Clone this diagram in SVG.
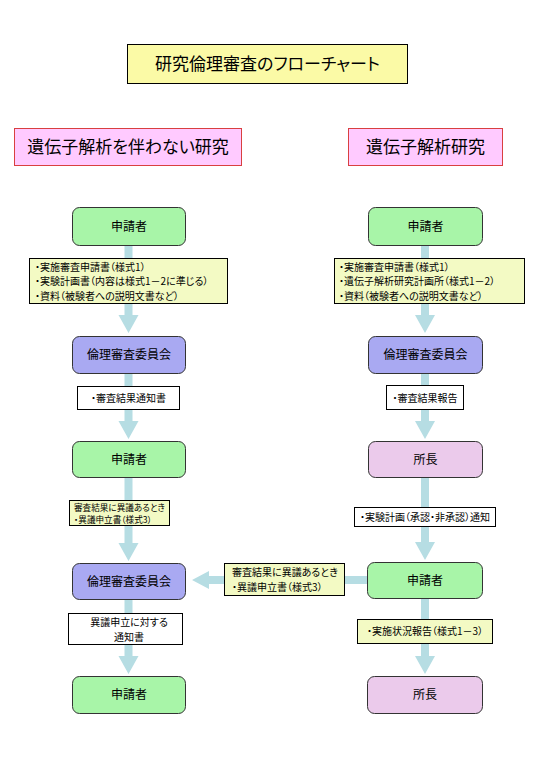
<svg xmlns="http://www.w3.org/2000/svg" width="540" height="780" viewBox="0 0 540 780">
<style>
text{font-family:"Noto Sans CJK JP","Noto Sans CJK SC",sans-serif;fill:#000;font-feature-settings:"palt";}
.title{font-size:17px;text-anchor:middle;}
.hdr{font-size:17px;text-anchor:middle;}
.nt{font-size:12px;text-anchor:middle;}
.lt{font-size:10px;}
.ltc{font-size:10px;text-anchor:middle;}
.node{stroke:#333;stroke-width:1;}
.green{fill:#a8f5a8;}
.blue{fill:#a9a9f2;}
.pink{fill:#ebcaeb;}
.ylab{fill:#f3fac4;stroke:#000;stroke-width:1;}
.wlab{fill:#fff;stroke:#000;stroke-width:1;}
.arrow{fill:#b6dde3;}
</style>
<rect width="540" height="780" fill="#fff"/>
<g id="title">
<rect x="127.5" y="44.5" width="280" height="39" fill="#fbfaa6" stroke="#000"/>
<text class="title" x="267.5" y="70">研究倫理審査のフローチャート</text>
</g>
<g id="header-left">
<rect x="14.5" y="128.5" width="227" height="37" fill="#ffcaff" stroke="#d94040"/>
<text class="hdr" x="128" y="153">遺伝子解析を伴わない研究</text>
</g>
<g id="header-right">
<rect x="348.5" y="128.5" width="154" height="37" fill="#ffcaff" stroke="#d94040"/>
<text class="hdr" x="425.5" y="153">遺伝子解析研究</text>
</g>
<g id="connectors">
<polygon class="arrow" points="124.5,245 132.5,245 132.5,315 138.5,315 128.5,333 118.5,315 124.5,315"/>
<polygon class="arrow" points="124.5,373 132.5,373 132.5,421 138.5,421 128.5,439 118.5,421 124.5,421"/>
<polygon class="arrow" points="124.5,477 132.5,477 132.5,543 138.5,543 128.5,561 118.5,543 124.5,543"/>
<polygon class="arrow" points="124.5,599 132.5,599 132.5,656 138.5,656 128.5,674 118.5,656 124.5,656"/>
<polygon class="arrow" points="421,245 429,245 429,315 435,315 425,333 415,315 421,315"/>
<polygon class="arrow" points="421,373 429,373 429,421 435,421 425,439 415,421 421,421"/>
<polygon class="arrow" points="421,477 429,477 429,542 435,542 425,560 415,542 421,542"/>
<polygon class="arrow" points="421,598 429,598 429,656 435,656 425,674 415,656 421,656"/>
<polygon class="arrow" points="368,576 368,584 209,584 209,589 192,580 209,571 209,576"/>
</g>
<g id="n1"><rect class="node green" x="72.5" y="207.5" width="113" height="38" rx="7"/><text class="nt" x="129" y="231">申請者</text></g>
<g id="n2"><rect class="node blue" x="72.5" y="336.5" width="113" height="37" rx="7"/><text class="nt" x="129" y="359">倫理審査委員会</text></g>
<g id="n3"><rect class="node green" x="72.5" y="441.5" width="113" height="36" rx="7"/><text class="nt" x="129" y="464">申請者</text></g>
<g id="n4"><rect class="node blue" x="72.5" y="563.5" width="113" height="36" rx="7"/><text class="nt" x="129" y="586">倫理審査委員会</text></g>
<g id="n5"><rect class="node green" x="72.5" y="676.5" width="113" height="37" rx="7"/><text class="nt" x="129" y="699">申請者</text></g>
<g id="m1"><rect class="node green" x="368.5" y="207.5" width="114" height="38" rx="7"/><text class="nt" x="425.5" y="231">申請者</text></g>
<g id="m2"><rect class="node blue" x="368.5" y="336.5" width="114" height="37" rx="7"/><text class="nt" x="425.5" y="359">倫理審査委員会</text></g>
<g id="m3"><rect class="node pink" x="368.5" y="441.5" width="114" height="36" rx="7"/><text class="nt" x="425.5" y="464">所長</text></g>
<g id="m4"><rect class="node green" x="367.5" y="562.5" width="115" height="36" rx="7"/><text class="nt" x="425" y="585">申請者</text></g>
<g id="m5"><rect class="node pink" x="367.5" y="676.5" width="115" height="37" rx="7"/><text class="nt" x="425" y="699">所長</text></g>
<g id="label-l1"><rect class="ylab" x="29.5" y="258.5" width="198" height="45"/>
<text class="lt"><tspan x="35" y="270.5">・実施審査申請書（様式1）</tspan><tspan x="35" y="285">・実験計画書（内容は様式1－2に準じる）</tspan><tspan x="35" y="299.5">・資料（被験者への説明文書など）</tspan></text></g>
<g id="label-r1"><rect class="ylab" x="334.5" y="258.5" width="190" height="45"/>
<text class="lt"><tspan x="339" y="270.5">・実施審査申請書（様式1）</tspan><tspan x="339" y="285">・遺伝子解析研究計画所（様式1－2）</tspan><tspan x="339" y="299.5">・資料（被験者への説明文書など）</tspan></text></g>
<g id="label-l2"><rect class="wlab" x="77.5" y="386.5" width="102" height="23"/><text class="ltc" x="128.5" y="402">・審査結果通知書</text></g>
<g id="label-r2"><rect class="wlab" x="386.5" y="385.5" width="77" height="24"/><text class="ltc" x="425" y="401.5">・審査結果報告</text></g>
<g id="label-l3"><rect class="ylab" x="69.5" y="500.5" width="100" height="25"/>
<text class="lt" style="font-size:8.6px"><tspan x="74" y="510.5">審査結果に異議あるとき</tspan><tspan x="74" y="523">・異議申立書（様式3）</tspan></text></g>
<g id="label-r3"><rect class="wlab" x="354.5" y="507.5" width="141" height="19"/><text class="ltc" x="425" y="521">・実験計画（承認・非承認）通知</text></g>
<g id="label-h"><rect class="ylab" x="224.5" y="563.5" width="120" height="32"/>
<text class="lt"><tspan x="232" y="576">審査結果に異議あるとき</tspan><tspan x="232" y="590.5">・異議申立書（様式3）</tspan></text></g>
<g id="label-l4"><rect class="wlab" x="68.5" y="613.5" width="114" height="31"/>
<text class="ltc"><tspan x="129" y="626">異議申立に対する</tspan><tspan x="129" y="640.5">通知書</tspan></text></g>
<g id="label-r4"><rect class="ylab" x="357.5" y="619.5" width="135" height="24"/><text class="ltc" x="425" y="635">・実施状況報告（様式1－3）</text></g>
</svg>
